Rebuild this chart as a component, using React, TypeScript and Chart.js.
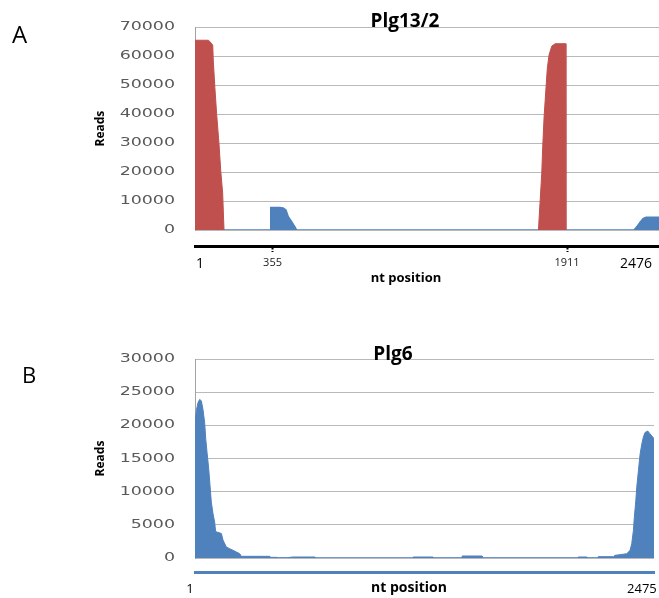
import React, { useEffect, useRef } from 'react';
import { Chart, registerables, LinearScale } from 'chart.js';

Chart.register(...registerables);

// ---------------- Panel A : Plg13/2 ----------------
const A_LETTER = 'A';
const A_TITLE = 'Plg13/2';
const A_X_MIN = 1;
const A_X_MAX = 2383;
const A_Y_MAX = 70000;
const A_Y_STEP = 10000;

// red (left) block
const A_RED1_POS = [1, 69, 78, 92, 95, 103, 112, 124, 133, 143, 148, 150];
const A_RED1_READS = [65500, 65500, 65000, 63800, 58300, 49200, 40100, 29900, 20600, 12700, 3400, 0];
// red (right) block
const A_RED2_POS = [1764, 1772, 1781, 1786, 1793, 1803, 1810, 1819, 1833, 1850, 1904, 1905];
const A_RED2_READS = [0, 9100, 19400, 28600, 38900, 49200, 56000, 60600, 63500, 64300, 64300, 0];
// blue coverage
const A_BLUE_POS = [1, 388, 390, 437, 453, 468, 480, 497, 514, 523, 2255, 2271, 2286, 2301, 2317, 2383];
const A_BLUE_READS = [0, 0, 7800, 7800, 7600, 6900, 4600, 2900, 1100, 0, 0, 1300, 2700, 3900, 4400, 4400];

const A_TICK_POS = [27, 399, 1911, 2265];
const A_TICK_LABELS = ['1', '355', '1911', '2476'];
const A_TICK_MARKED = [false, true, true, false];

// ---------------- Panel B : Plg6 ----------------
const B_LETTER = 'B';
const B_TITLE = 'Plg6';
const B_X_MIN = 1;
const B_X_MAX = 2475;
const B_Y_MAX = 30000;
const B_Y_STEP = 5000;

const B_POS = [1, 8, 17, 26, 35, 44, 53, 59, 66, 75, 82, 89, 98, 107, 112, 121, 143, 152, 170, 188,
  206, 224, 242, 251, 405, 406, 443, 444, 497, 529, 648, 649, 1176, 1177, 1284, 1285, 1440, 1441, 1548, 1549,
  2065, 2066, 2114, 2115, 2173, 2174, 2256, 2265, 2292, 2328, 2346, 2355, 2364, 2369, 2377, 2382, 2391, 2400, 2409, 2417,
  2426, 2441, 2453, 2468, 2475];
const B_READS = [20400, 22200, 23400, 23900, 23700, 22400, 20400, 17900, 15900, 13400, 10900, 8400, 6700, 5400, 4000, 3900, 3700, 2700, 1650, 1400,
  1150, 900, 650, 250, 250, 100, 100, 50, 50, 150, 150, 30, 30, 150, 150, 40, 40, 300, 300, 40,
  40, 150, 150, 40, 40, 200, 200, 400, 500, 650, 1150, 2150, 4150, 6150, 8650, 10650, 13150, 15650, 17150, 18150,
  18900, 19150, 18750, 18250, 18000];

const B_TICK_POS = [-26, 2410];
const B_TICK_LABELS = ['1', '2475'];

const Y_TITLE = 'Reads';
const X_TITLE = 'nt position';

// ---------------- styles ----------------
const RED = '#c0504d';
const BLUE = '#4f81bd';
const GRID = '#b9b9b9';
const Y_TICK_STRETCH = 1.45;
const Y_TICK_PADDING = 20;

// Linear scale whose tick labels are drawn horizontally widened (as in the source figure)
class WideLinearScale extends (LinearScale as any) {
  static id = 'wideLinear';
  drawLabels(area: any) {
    const self: any = this;
    const ctx: any = self.ctx;
    const anchor = self.right - Y_TICK_PADDING;
    ctx.save();
    ctx.translate(anchor, 0);
    ctx.scale(Y_TICK_STRETCH, 1);
    ctx.translate(-anchor, 0);
    super.drawLabels(area);
    ctx.restore();
  }
}
Chart.register(WideLinearScale as any);

const pts = (pos: number[], reads: number[]) => pos.map((x, i) => ({ x, y: reads[i] }));

function yScale(max: number, step: number) {
  return {
    type: 'wideLinear',
    position: 'left',
    min: 0,
    max,
    ticks: {
      stepSize: step,
      callback: (v: any) => String(v),
      color: '#595959',
      font: { family: 'DejaVu Sans', size: 12 },
      padding: Y_TICK_PADDING,
    },
    grid: { color: GRID, lineWidth: 1, drawTicks: false },
    border: { display: true, color: '#a3a3a3', width: 1 },
    title: {
      display: true,
      text: Y_TITLE,
      color: '#000',
      font: { family: 'Open Sans', size: 12, weight: 'bold' },
      padding: { top: 4, bottom: 0 },
    },
    afterFit: (s: any) => { s.width = 106; },
  };
}

function gapScale(min: number, max: number, h: number) {
  return {
    type: 'linear',
    position: 'bottom',
    weight: 0,
    min,
    max,
    ticks: { display: false },
    grid: { display: false, drawTicks: false },
    border: { display: false },
    afterFit: (s: any) => { s.height = h; s.paddingLeft = 0; s.paddingRight = 0; },
  };
}

function ds(data: any[], color: string, width: number) {
  return {
    data,
    xAxisID: 'x',
    yAxisID: 'y',
    borderColor: color,
    backgroundColor: color,
    borderWidth: width,
    fill: 'origin',
    pointRadius: 0,
    tension: 0,
  };
}

function baseOptions(padding: any, scales: any) {
  return {
    responsive: false,
    animation: false,
    devicePixelRatio: 1,
    events: [],
    layout: { padding },
    plugins: { legend: { display: false }, tooltip: { enabled: false }, title: { display: false } },
    scales,
  };
}

function configA(): any {
  return {
    type: 'line',
    data: {
      datasets: [
        ds(pts(A_RED1_POS, A_RED1_READS), RED, 1),
        ds(pts(A_RED2_POS, A_RED2_READS), RED, 1),
        ds(pts(A_BLUE_POS, A_BLUE_READS), BLUE, 1.5),
      ],
    },
    options: baseOptions(
      { left: 89, right: 0, top: 26, bottom: 14 },
      {
        x: gapScale(A_X_MIN, A_X_MAX, 16),
        x2: {
          type: 'linear',
          position: 'bottom',
          weight: 1,
          min: A_X_MIN,
          max: A_X_MAX,
          afterBuildTicks: (s: any) => { s.ticks = A_TICK_POS.map((v) => ({ value: v })); },
          ticks: {
            autoSkip: false,
            maxRotation: 0,
            minRotation: 0,
            padding: 4,
            color: (c: any) => (A_TICK_MARKED[c.index] ? '#222' : '#000'),
            font: (c: any) => ({ family: 'Open Sans', size: A_TICK_MARKED[c.index] ? 11 : 14 }),
            callback: (_v: any, i: number) => A_TICK_LABELS[i],
          },
          grid: {
            display: true,
            drawOnChartArea: false,
            drawTicks: true,
            tickLength: 6,
            tickWidth: 2,
            tickBorderDash: [1.5, 1.5],
            tickColor: (c: any) => (A_TICK_MARKED[c.index] ? '#000' : 'rgba(0,0,0,0)'),
          },
          border: { display: true, color: '#000', width: 3 },
          afterFit: (s: any) => { s.height = 30; s.paddingLeft = 0; s.paddingRight = 0; },
        },
        y: yScale(A_Y_MAX, A_Y_STEP),
      }
    ),
  };
}

function configB(): any {
  return {
    type: 'line',
    data: { datasets: [ds(pts(B_POS, B_READS), BLUE, 1)] },
    options: baseOptions(
      { left: 89, right: 5, top: 29, bottom: 2 },
      {
        x: gapScale(B_X_MIN, B_X_MAX, 14),
        x2: {
          type: 'linear',
          position: 'bottom',
          weight: 1,
          min: B_X_MIN,
          max: B_X_MAX,
          afterBuildTicks: (s: any) => { s.ticks = B_TICK_POS.map((v) => ({ value: v })); },
          ticks: {
            autoSkip: false,
            maxRotation: 0,
            minRotation: 0,
            padding: 9,
            color: '#000',
            font: { family: 'Open Sans', size: 13 },
            callback: (_v: any, i: number) => B_TICK_LABELS[i],
          },
          grid: { display: false, drawTicks: false },
          border: { display: true, color: BLUE, width: 3 },
          afterFit: (s: any) => { s.height = 24; s.paddingLeft = 0; s.paddingRight = 0; },
        },
        y: yScale(B_Y_MAX, B_Y_STEP),
      }
    ),
  };
}

function Text(props: { x: number; top: number; size: number; bold?: boolean; center?: boolean; children: any }) {
  return (
    <div
      style={{
        position: 'absolute',
        left: props.x,
        top: props.top,
        fontFamily: "'Open Sans', sans-serif",
        fontSize: props.size,
        fontWeight: props.bold ? 700 : 400,
        lineHeight: 1,
        whiteSpace: 'nowrap',
        color: '#000',
        transform: props.center ? 'translateX(-50%)' : undefined,
      }}
    >
      {props.children}
    </div>
  );
}

export default function App() {
  const refA = useRef<HTMLCanvasElement>(null);
  const refB = useRef<HTMLCanvasElement>(null);

  useEffect(() => {
    const a = new Chart(refA.current as HTMLCanvasElement, configA());
    const b = new Chart(refB.current as HTMLCanvasElement, configB());
    return () => {
      a.destroy();
      b.destroy();
    };
  }, []);

  return (
    <div style={{ position: 'absolute', left: 0, top: 0, width: 659, height: 598, background: '#fff', overflow: 'hidden' }}>
      <canvas ref={refA} width={659} height={290} style={{ position: 'absolute', left: 0, top: 0, display: 'block' }} />
      <canvas ref={refB} width={659} height={268} style={{ position: 'absolute', left: 0, top: 330, display: 'block' }} />
      <Text x={12} top={22} size={24}>{A_LETTER}</Text>
      <Text x={405} top={11} size={19} bold center>{A_TITLE}</Text>
      <Text x={406} top={271} size={13} bold center>{X_TITLE}</Text>
      <Text x={22} top={363} size={22}>{B_LETTER}</Text>
      <Text x={393} top={344} size={19} bold center>{B_TITLE}</Text>
      <Text x={409} top={580} size={14} bold center>{X_TITLE}</Text>
    </div>
  );
}
